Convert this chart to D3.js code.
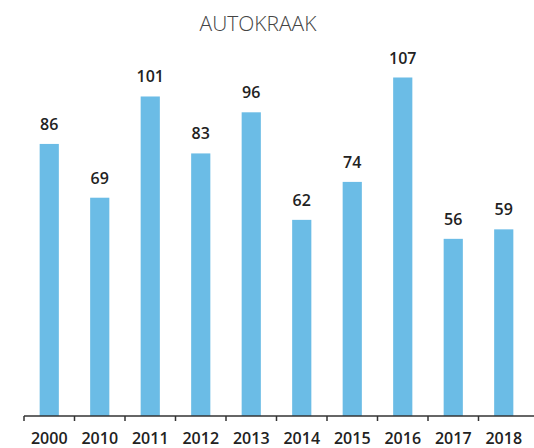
<!DOCTYPE html>
<html>
<head>
<meta charset="utf-8">
<script src="https://cdn.jsdelivr.net/npm/d3@7"></script>
<style>
body { margin: 0; background: #fff; }
</style>
</head>
<body>
<script>
width = 534
height = 448

const years = ["2000", "2010", "2011", "2012", "2013", "2014", "2015", "2016", "2017", "2018"];
const counts = [86, 69, 101, 83, 96, 62, 74, 107, 56, 59];

const svg = d3.select("body")
  .append("svg")
    .attr("width", width)
    .attr("height", height);

// plot area
const plotLeft = 24, plotRight = 529, base = 416, plotTop = 77.5;

const x = d3.scaleBand()
  .domain(years)
  .range([plotLeft, plotRight])
  .paddingInner(0.62)
  .paddingOuter(0.31);

const y = d3.scaleLinear()
  .domain([0, 107])
  .range([base, plotTop]);

svg.append("text")
  .attr("x", 258)
  .attr("y", 31)
  .attr("text-anchor", "middle")
  .attr("font-family", "Open Sans")
  .attr("font-weight", 300)
  .attr("font-size", 21)
  .attr("fill", "#444")
  .text("AUTOKRAAK");

svg.append("g")
  .selectAll("rect")
  .data(counts)
  .join("rect")
    .attr("x", (d, i) => x(years[i]))
    .attr("y", d => y(d))
    .attr("width", x.bandwidth())
    .attr("height", d => base - y(d))
    .attr("fill", "#6bbce6");

svg.append("g")
  .selectAll("text")
  .data(counts)
  .join("text")
    .attr("x", (d, i) => x(years[i]) + x.bandwidth() / 2)
    .attr("y", d => y(d) - 14)
    .attr("text-anchor", "middle")
    .attr("font-family", "Open Sans")
    .attr("font-weight", 600)
    .attr("font-size", 16)
    .attr("fill", "#222")
    .text(d => d);

// x axis, ticks between bands
const step = x.step();
const axis = svg.append("g");
axis.append("line")
  .attr("x1", plotLeft).attr("x2", width)
  .attr("y1", base).attr("y2", base)
  .attr("stroke", "#333").attr("stroke-width", 1.5);

axis.selectAll("line.tick")
  .data(years)
  .join("line")
    .attr("class", "tick")
    .attr("x1", (d, i) => plotLeft + i * step)
    .attr("x2", (d, i) => plotLeft + i * step)
    .attr("y1", base).attr("y2", base + 5)
    .attr("stroke", "#333").attr("stroke-width", 1.5);

axis.selectAll("text")
  .data(years)
  .join("text")
    .attr("x", d => x(d) + x.bandwidth() / 2)
    .attr("y", 444)
    .attr("text-anchor", "middle")
    .attr("font-family", "Open Sans")
    .attr("font-weight", 600)
    .attr("font-size", 16)
    .attr("fill", "#222")
    .text(d => d);
</script>
</body>
</html>
